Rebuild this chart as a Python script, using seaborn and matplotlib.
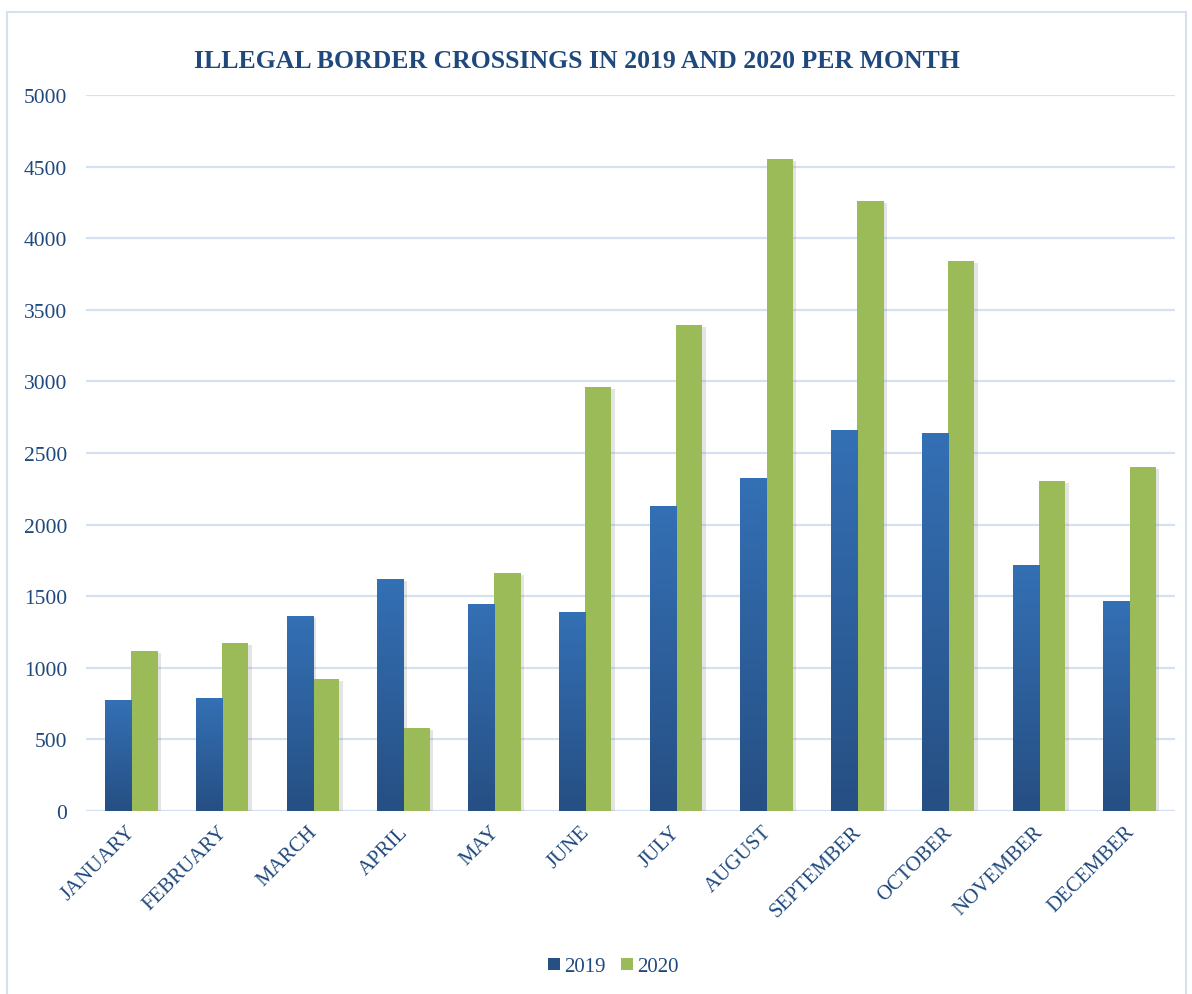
import numpy as np
import pandas as pd
import matplotlib
matplotlib.use("Agg")
import matplotlib.pyplot as plt
import matplotlib.patheffects as pe
import matplotlib.transforms as mtransforms
from matplotlib.patches import Rectangle
from matplotlib.lines import Line2D
import seaborn as sns

months = ["JANUARY", "FEBRUARY", "MARCH", "APRIL", "MAY", "JUNE", "JULY",
          "AUGUST", "SEPTEMBER", "OCTOBER", "NOVEMBER", "DECEMBER"]
crossings_2019 = [775, 789, 1362, 1620, 1446, 1390, 2130, 2325, 2661, 2640, 1718, 1466]
crossings_2020 = [1117, 1173, 922, 580, 1662, 2961, 3394, 4553, 4260, 3841, 2304, 2402]
years = ["2019", "2020"]
y_ticks = list(range(0, 5001, 500))

df = pd.DataFrame({
    "month": months * 2,
    "year": [years[0]] * len(months) + [years[1]] * len(months),
    "crossings": crossings_2019 + crossings_2020,
})

sns.set_theme(style="white")
plt.rcParams["font.family"] = ["Liberation Serif", "DejaVu Serif"]

text_color = "#1F497D"
blue_top = np.array([52, 112, 181]) / 255
blue_bottom = np.array([38, 79, 131]) / 255
green = "#9BBB59"
grid_color = "#D5E0F0"

fig = plt.figure(figsize=(11.92, 9.95), dpi=100)
ax = fig.add_axes([86 / 1192, 1 - 812 / 995, (1175 - 86) / 1192, (812 - 96) / 995])

sns.barplot(data=df, x="month", y="crossings", hue="year", order=months,
            hue_order=years, palette=[blue_bottom, green], width=0.58,
            saturation=1, errorbar=None, legend=False, ax=ax)

shadow = [pe.SimplePatchShadow(offset=(2.5, -1.5), shadow_rgbFace="#888888", alpha=0.22),
          pe.Normal()]
for patch in ax.patches:
    patch.set_linewidth(0)
    patch.set_path_effects(shadow)

# vertical gradient on the 2019 bars
grad = np.linspace(0, 1, 256)[:, None, None]
grad_img = blue_top * (1 - grad) + blue_bottom * grad
for patch in ax.containers[0]:
    x0 = patch.get_x()
    w = patch.get_width()
    h = patch.get_height()
    im = ax.imshow(grad_img, extent=[x0, x0 + w, 0, h], origin="upper",
                   aspect="auto", zorder=patch.get_zorder() + 0.1)
    im.set_clip_path(patch)

ax.set_xlim(-0.5, len(months) - 0.5)
ax.set_ylim(0, 5000)
ax.set_yticks(y_ticks)
ax.set_yticklabels([str(v) for v in y_ticks])
ax.yaxis.grid(True, color=grid_color, linewidth=1.6)
ax.set_axisbelow(True)
for s in ax.spines.values():
    s.set_visible(False)
ax.axhline(0, color=grid_color, linewidth=2.2, zorder=0.5)

ax.set_xlabel("")
ax.set_ylabel("")
ax.tick_params(axis="y", length=0, pad=13.5, labelsize=15.5, labelcolor=text_color)
ax.tick_params(axis="x", length=0, pad=8, labelsize=15, labelcolor=text_color)
ax.set_xticks(range(len(months)))
ax.set_xticklabels(months, rotation=45, ha="right", va="top", rotation_mode="anchor")
shift = mtransforms.ScaledTranslation(-5 / 100, 0, fig.dpi_scale_trans)
for lbl in ax.get_xticklabels():
    lbl.set_transform(lbl.get_transform() + shift)

fig.text(577 / 1192, 1 - 61 / 995, "ILLEGAL BORDER CROSSINGS IN 2019 AND 2020 PER MONTH",
         ha="center", va="center", fontsize=18.5, fontweight="bold", color=text_color)

handles = [Line2D([], [], marker="s", linestyle="", markersize=8,
                  markerfacecolor=blue_bottom, markeredgewidth=0),
           Line2D([], [], marker="s", linestyle="", markersize=8,
                  markerfacecolor=green, markeredgewidth=0)]
leg = fig.legend(handles, years, loc="center", bbox_to_anchor=(611 / 1192, 1 - 967 / 995),
                 ncol=2, frameon=False, fontsize=15, handletextpad=0.0,
                 columnspacing=0.5, handlelength=1.0)
for t in leg.get_texts():
    t.set_color(text_color)

fig.add_artist(Rectangle((7 / 1192, -0.02), (1186 - 7) / 1192, 1 - 13 / 995 + 0.02,
                         transform=fig.transFigure, fill=False,
                         edgecolor=grid_color, linewidth=1.5))

fig.savefig("out.png", dpi=100, facecolor="white")
